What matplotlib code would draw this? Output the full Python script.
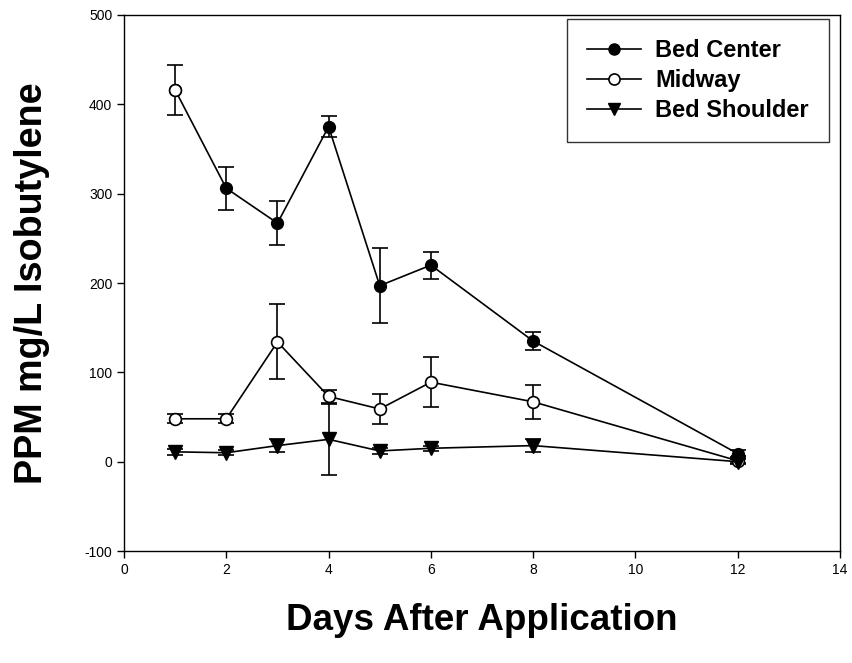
import matplotlib
matplotlib.use('Agg')
import matplotlib.pyplot as plt

plt.rcParams['font.family'] = ['Liberation Sans', 'DejaVu Sans']
plt.rcParams['axes.unicode_minus'] = False

# days after application
center_days = [1, 2, 3, 4, 5, 6, 8, 12]
center_ppm = [416, 306, 267, 375, 197, 220, 135, 9]
center_err = [28, 24, 25, 12, 42, 15, 10, 4]

mid_days = [1, 2, 3, 4, 5, 6, 8, 12]
mid_ppm = [48, 48, 134, 73, 59, 89, 67, 1]
mid_err = [5, 5, 42, 7, 17, 28, 19, 3]

shoulder_days = [1, 2, 3, 4, 5, 6, 8, 12]
shoulder_ppm = [11, 10, 18, 25, 12, 15, 18, 0]
shoulder_err = [3, 3, 7, 40, 3, 3, 7, 3]

fig = plt.figure(figsize=(8.53, 6.63), dpi=100)
ax = fig.add_axes([0.1454, 0.1689, 0.8394, 0.8085])

ms = 8.5
ebkw = dict(ecolor='black', elinewidth=1.2, capsize=6, capthick=1.2, zorder=2)

ax.errorbar(center_days, center_ppm, yerr=center_err, **ebkw, fmt='none')
ax.errorbar(mid_days, mid_ppm, yerr=mid_err, **ebkw, fmt='none')
ax.errorbar(shoulder_days, shoulder_ppm, yerr=shoulder_err, **ebkw, fmt='none')

ax.plot(center_days, center_ppm, color='black', lw=1.2, marker='o', ms=ms,
        mfc='black', mec='black', label='Bed Center', zorder=3)
# first point of the bed center series is drawn with an open symbol in the original
ax.plot(center_days[:1], center_ppm[:1], ls='none', marker='o', ms=ms,
        mfc='white', mec='black', mew=1.2, zorder=4)
ax.plot(mid_days, mid_ppm, color='black', lw=1.2, marker='o', ms=ms,
        mfc='white', mec='black', mew=1.2, label='Midway', zorder=3)
ax.plot(shoulder_days, shoulder_ppm, color='black', lw=1.2, marker='v', ms=ms + 1,
        mfc='black', mec='black', label='Bed Shoulder', zorder=3)

ax.set_xlim(0, 14)
ax.set_ylim(-100, 500)
ax.set_xticks(range(0, 15, 2))
ax.set_yticks(range(-100, 501, 100))
ax.tick_params(direction='out', length=5, width=1, labelsize=10)
for s in ax.spines.values():
    s.set_linewidth(1)

ax.set_xlabel('Days After Application', fontsize=26.5, fontweight='bold', labelpad=19)
ax.set_ylabel('PPM mg/L Isobutylene', fontsize=27.2, fontweight='bold', labelpad=25)

leg = ax.legend(loc='upper right', prop={'size': 17, 'weight': 'bold'}, frameon=True,
                fancybox=False, edgecolor='black', handlelength=2.3, handletextpad=0.6,
                borderpad=0.85, labelspacing=0.3, borderaxespad=0,
                bbox_to_anchor=(0.9846, 0.9925))
leg.get_frame().set_linewidth(1)
for h in leg.legend_handles:
    h.set_markersize(8)

fig.savefig('out.png', dpi=100)
